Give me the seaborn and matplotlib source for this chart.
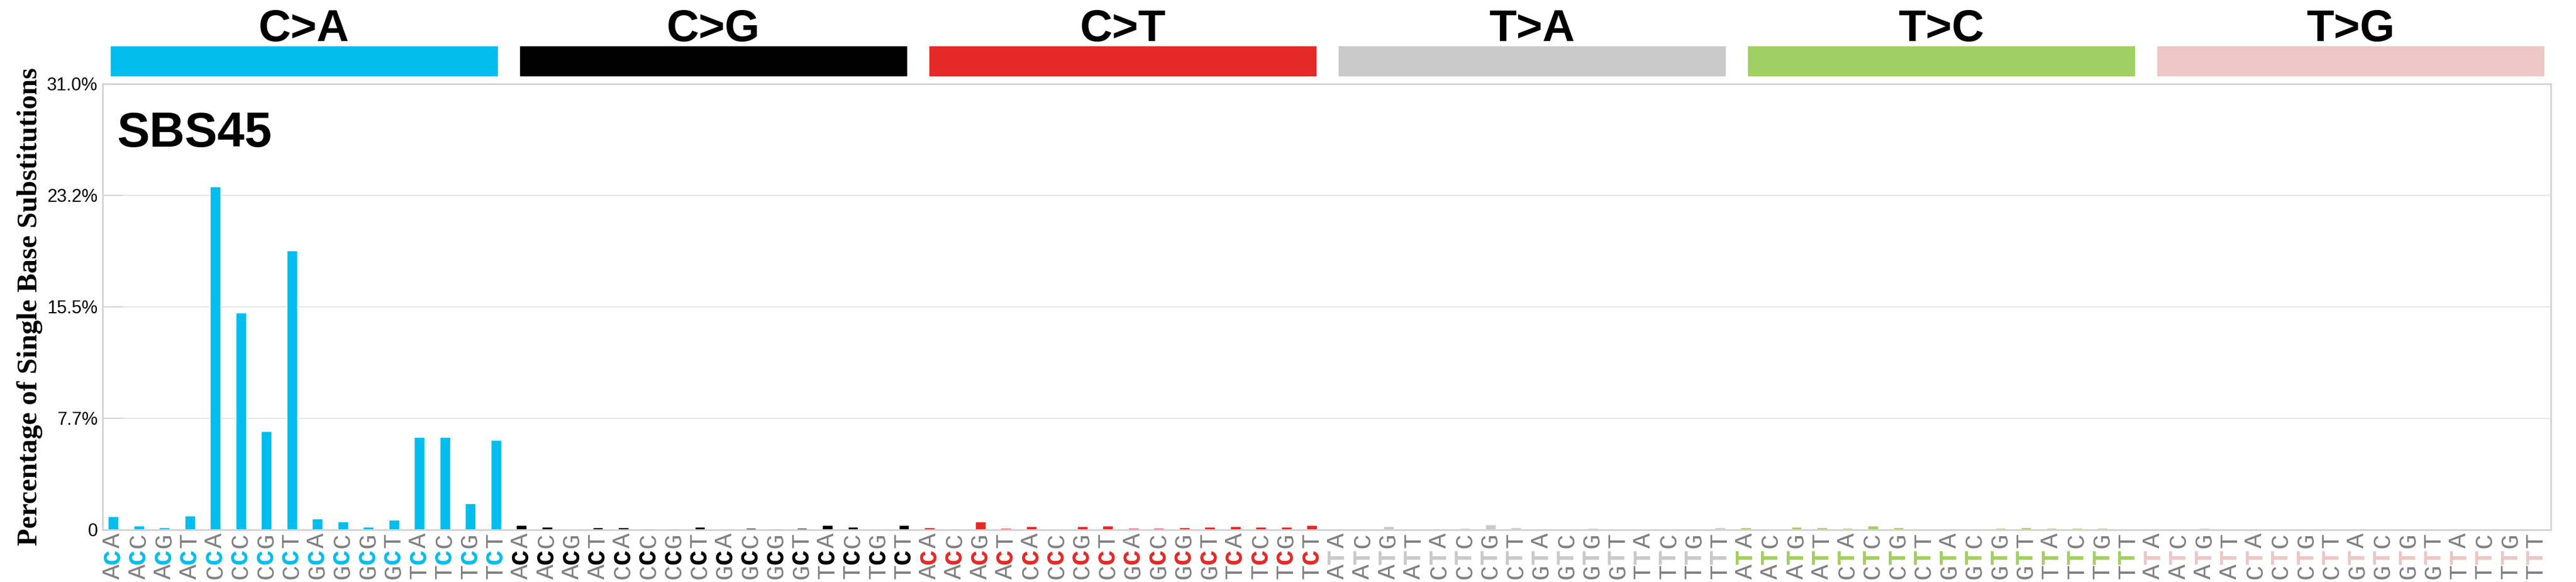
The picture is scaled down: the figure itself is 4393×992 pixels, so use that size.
import numpy as np
import pandas as pd
import seaborn as sns
import matplotlib.pyplot as plt
from matplotlib.patches import Rectangle
from matplotlib.transforms import blended_transform_factory

# SBS45 profile, percentage of single base substitutions
substitutions = ["C>A", "C>G", "C>T", "T>A", "T>C", "T>G"]
sub_colors = ["#03BDEF", "#010101", "#E42926", "#CBCACA", "#A2CF63", "#ECC7C5"]
flanks_5 = ["A"] * 4 + ["C"] * 4 + ["G"] * 4 + ["T"] * 4
flanks_3 = ["A", "C", "G", "T"] * 4

ca_vals = [0.94, 0.29, 0.16, 0.98, 23.86, 15.09, 6.86, 19.41,
           0.78, 0.57, 0.20, 0.70, 6.45, 6.45, 1.84, 6.24]
cg_vals = [0.31, 0.19, 0.04, 0.15, 0.15, 0.07, 0.07, 0.19,
           0.03, 0.11, 0.07, 0.11, 0.31, 0.19, 0.03, 0.31]
ct_vals = [0.15, 0.07, 0.56, 0.11, 0.23, 0.00, 0.23, 0.27,
           0.11, 0.11, 0.15, 0.19, 0.23, 0.19, 0.19, 0.31]
ta_vals = [0.07, 0.07, 0.23, 0.07, 0.07, 0.11, 0.35, 0.15,
           0.03, 0.07, 0.11, 0.07, 0.03, 0.03, 0.07, 0.15]
tc_vals = [0.15, 0.03, 0.19, 0.15, 0.11, 0.27, 0.15, 0.07,
           0.07, 0.07, 0.11, 0.15, 0.11, 0.11, 0.11, 0.07]
tg_vals = [0.03, 0.07, 0.11, 0.03, 0.03, 0.03, 0.07, 0.07,
           0.03, 0.07, 0.03, 0.07, 0.03, 0.03, 0.07, 0.07]

ytick_vals = [0, 7.75, 15.5, 23.25, 31.0]
ytick_labels = ["0", "7.7%", "15.5%", "23.2%", "31.0%"]

# build long table
rows = []
for sub, vals in zip(substitutions, [ca_vals, cg_vals, ct_vals, ta_vals, tc_vals, tg_vals]):
    for f5, f3, v in zip(flanks_5, flanks_3, vals):
        rows.append({"mutation": f"{f5}[{sub}]{f3}", "sub": sub, "pct": v,
                     "f5": f5, "ref": sub[0], "f3": f3})
df = pd.DataFrame(rows)
palette = dict(zip(substitutions, sub_colors))

sns.set_style("white")
plt.rcParams["font.family"] = ["Liberation Sans", "DejaVu Sans"]
plt.rcParams["text.color"] = "black"
plt.rcParams["ytick.labelcolor"] = "black"

fig = plt.figure(figsize=(43.93, 9.92), dpi=100)
ax = fig.add_axes([175 / 4393, 1 - 903 / 992, (4350 - 175) / 4393, 760 / 992])

sns.barplot(data=df, x="mutation", y="pct", hue="sub", palette=palette,
            order=df["mutation"], dodge=False, width=0.41, saturation=1,
            legend=False, ax=ax)

ax.set_xlim(-0.42, 95.58)
ax.set_ylim(0, 31)
ax.set_yticks(ytick_vals)
ax.set_yticklabels(ytick_labels, fontsize=22, color="black")
ax.set_xticks([])
ax.set_xlabel("")
ax.set_ylabel("")
ax.yaxis.grid(True, color="#E6E6E6", linewidth=1.5)
ax.set_axisbelow(True)
ax.tick_params(axis="y", direction="in", length=25, width=1.5, color="#D3D3D3", pad=6, left=True)
for s in ax.spines.values():
    s.set_color("#D3D3D3")
    s.set_linewidth(2)

# category header bars and labels
trans = blended_transform_factory(ax.transData, ax.transAxes)
for k, (sub, col) in enumerate(zip(substitutions, sub_colors)):
    x0 = -0.09 + 16.05 * k
    ax.add_patch(Rectangle((x0, 1.018), 15.15, 0.066, transform=trans,
                           color=col, clip_on=False))
    ax.text(x0 + 15.15 / 2, 1.096, sub, transform=trans, ha="center", va="baseline",
            fontsize=55, fontweight="bold", color="black")

# trinucleotide context labels, 5' base at bottom
for i, r in df.iterrows():
    col = palette[r["sub"]]
    ax.text(i, -0.094, r["f5"], transform=trans, rotation=90, ha="center", va="center",
            fontsize=31, color="gray", family="Liberation Mono")
    ax.text(i, -0.0605, r["ref"], transform=trans, rotation=90, ha="center", va="center",
            fontsize=31, color=col, fontweight="bold", family="Liberation Mono")
    ax.text(i, -0.0245, r["f3"], transform=trans, rotation=90, ha="center", va="center",
            fontsize=31, color="gray", family="Liberation Mono")

ax.text(0.006, 0.859, "SBS45", transform=ax.transAxes, fontsize=60, fontweight="bold",
        ha="left", va="baseline", color="black")

fig.text(51 / 4393, 1 - 523 / 992, "Percentage of Single Base Substitutions", rotation=90,
         ha="center", va="center", fontsize=35, fontweight="bold", family="Liberation Serif",
         color="black")

fig.savefig("out.png", dpi=100)
